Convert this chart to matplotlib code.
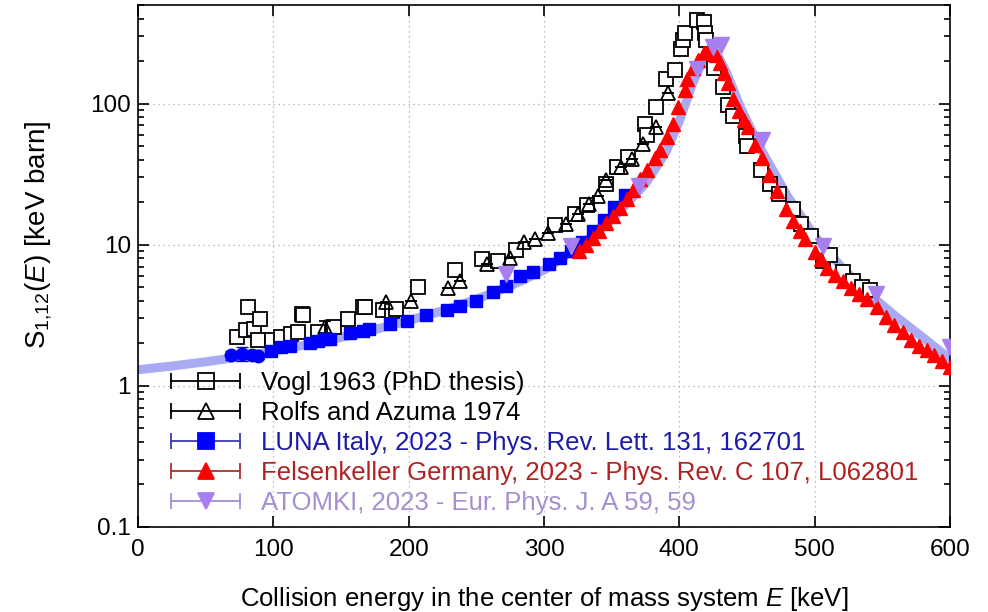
import numpy as np
import matplotlib
matplotlib.use('Agg')
import matplotlib.pyplot as plt
from matplotlib.lines import Line2D
from matplotlib.legend_handler import HandlerLine2D, HandlerTuple
from matplotlib.ticker import LogLocator, NullFormatter, FixedLocator

plt.rcParams['font.family'] = ['Liberation Sans', 'DejaVu Sans']
plt.rcParams['mathtext.fontset'] = 'custom'
plt.rcParams['mathtext.rm'] = 'Liberation Sans'
plt.rcParams['mathtext.it'] = 'Liberation Sans:italic'

# R-matrix type fit curve
fit_E = [0, 25, 50, 75, 100, 125, 150, 175, 200, 225, 250, 275, 300, 325, 350,
         375, 390, 400, 410, 418, 423, 428, 435, 445, 460, 480, 500, 520, 540,
         560, 580, 600]
fit_S = [1.30, 1.38, 1.48, 1.60, 1.76, 1.96, 2.2, 2.5, 2.9, 3.4, 4.1, 5.1, 6.6,
         9.5, 15, 27, 45, 75, 140, 205, 232, 225, 165, 95, 48, 22, 11.5, 6.9,
         4.5, 3.1, 2.2, 1.55]

# Vogl 1963
vogl_E = [73, 80, 81, 86, 89, 90, 99, 106, 113, 118, 121, 122, 133, 145, 155,
          166, 168, 181, 188, 191, 207, 234, 254, 266, 279, 308, 323, 332, 346,
          354, 362, 375, 376, 383, 390, 397, 401, 403, 404, 413, 418, 419, 420,
          426, 432, 436, 440, 449, 450, 460, 467, 474, 484, 490, 497, 506, 511,
          521, 528, 535, 541]
vogl_S = [2.22, 2.47, 3.63, 2.54, 2.1, 2.98, 2.1, 2.22, 2.34, 2.41, 3.24, 3.15,
          2.41, 2.62, 2.98, 3.6, 3.63, 3.42, 3.4, 3.51, 5.0, 6.6, 7.95, 7.6,
          9.1, 13.7, 16.6, 19, 27, 35.6, 42, 72, 60, 95, 150, 172, 245, 280,
          315, 390, 380, 315, 280, 178, 132, 97, 82, 59, 50, 33.6, 27, 23, 18,
          14, 11.6, 7.6, 8.4, 6.4, 5.5, 5.0, 4.75]

# Rolfs and Azuma 1974
rolfs_E = [138, 183, 202, 229, 238, 258, 275, 285, 293, 303, 316, 325, 333,
           340, 346, 357, 365, 373, 383, 392]
rolfs_S = [2.62, 3.92, 4.0, 4.95, 5.57, 7.3, 8.0, 10.5, 11, 12, 14, 16.6,
           19.5, 22, 28.5, 35.5, 40.5, 52, 68, 118]
rolfs_err = [0.25, 0, 0, 0, 0, 0, 0, 0, 0, 0, 0, 0, 0, 0, 0, 0, 0, 0, 0, 0]

# LUNA 2023 (low energy runs drawn as circles)
luna_low_E = [69, 77, 84, 89]
luna_low_S = [1.65, 1.69, 1.66, 1.63]
luna_low_err = [0.12, 0.2, 0.1, 0.08]
luna_E = [98, 106, 112, 127, 133, 139, 142, 157, 166, 171, 186, 199, 213, 228,
          238, 250, 262, 272, 282, 292, 304, 312, 320, 328, 336, 344, 352, 360]
luna_S = [1.77, 1.89, 1.92, 2.0, 2.08, 2.15, 2.15, 2.35, 2.45, 2.53, 2.75, 2.9,
          3.15, 3.42, 3.7, 4.0, 4.6, 5.1, 6.0, 6.4, 7.3, 8.0, 9.0, 10.5, 12.5,
          15, 18.5, 22.5]

# Felsenkeller 2023
fk_E = [326, 331, 336, 341, 346, 351, 356, 361, 366, 371, 376, 382, 386, 391,
        395, 399, 404, 406, 410, 414, 418, 421, 424, 427, 430, 433, 436, 440,
        444, 448, 451, 456, 461, 466, 472, 479, 484, 489, 493, 500, 505, 509,
        515, 521, 527, 533, 539, 546, 553, 559, 565, 571, 577, 583, 588, 594,
        600]
fk_S = [9.0, 10.0, 11.2, 12.6, 14.2, 16.0, 18.3, 21, 24.5, 29, 34, 41, 47, 58,
        72, 95, 125, 150, 180, 205, 228, 236, 232, 220, 195, 165, 140, 108, 88,
        76, 68, 51, 41, 31, 24, 18, 14.8, 12.6, 11, 8.9, 7.9, 6.8, 6.1, 5.5,
        4.9, 4.5, 4.1, 3.6, 3.05, 2.7, 2.4, 2.1, 1.92, 1.78, 1.64, 1.5, 1.37]

# ATOMKI 2023
atomki_E = [272, 320, 370, 413, 425, 431, 461, 506, 545, 600]
atomki_S = [6.2, 9.8, 26, 177, 250, 258, 55, 9.8, 4.5, 1.88]

fig, ax = plt.subplots(figsize=(9.88, 6.12), dpi=100)
fig.subplots_adjust(left=0.1397, right=0.9615, top=0.992, bottom=0.139)

ax.plot(fit_E, fit_S, color='#a9abf2', lw=6.5, solid_capstyle='round', zorder=1)

ax.errorbar(vogl_E, vogl_S, yerr=np.array(vogl_S) * 0.04, fmt='s', ms=9.5,
            mfc='white', mec='black', mew=1.3, ecolor='black', elinewidth=1,
            capsize=3, zorder=3)
ax.errorbar(rolfs_E, rolfs_S, yerr=rolfs_err, fmt='^', ms=10, mfc='none',
            mec='black', mew=1.3, ecolor='black', elinewidth=1, capsize=4,
            zorder=4)
ax.errorbar(luna_low_E, luna_low_S, yerr=luna_low_err, fmt='o', ms=9,
            color='#0000ff', ecolor='#0000ff', elinewidth=1.2, capsize=4,
            zorder=5)
ax.plot(luna_E, luna_S, 's', ms=9, color='#0000ff', mec='#0000ff', zorder=5)
ax.plot(fk_E, fk_S, '^', ms=10, color='#ff0000', mec='#ff0000', zorder=6)
ax.plot(atomki_E, atomki_S, 'v', ms=11, color='#a87ff0', mec='#a87ff0',
        zorder=7)

ax.set_yscale('log')
ax.set_xlim(0, 600)
ax.set_ylim(0.1, 500)
ax.xaxis.set_major_locator(FixedLocator([0, 100, 200, 300, 400, 500, 600]))
ax.yaxis.set_major_locator(FixedLocator([0.1, 1, 10, 100]))
ax.set_yticklabels(['0.1', '1', '10', '100'])
ax.yaxis.set_minor_locator(LogLocator(base=10, subs=np.arange(2, 10)))
ax.yaxis.set_minor_formatter(NullFormatter())
ax.tick_params(which='both', direction='in', top=True, right=True,
               labelsize=17.5, width=1.2)
ax.tick_params(which='major', length=8)
ax.tick_params(which='minor', length=4)
ax.tick_params(axis='x', which='major', pad=9)
ax.tick_params(axis='y', which='major', pad=5)
ax.grid(True, which='major', ls=(0, (1, 3)), color='#aaaaaa', lw=0.9)
for sp in ax.spines.values():
    sp.set_linewidth(1.2)

ax.set_xlabel('Collision energy in the center of mass system $\\mathit{E}$ [keV]',
              fontsize=18.5)
ax.xaxis.set_label_coords(0.5, -0.112)
ax.set_ylabel('S$_{1{,}12}$($\\mathit{E}$) [keV barn]', fontsize=20)
ax.yaxis.set_label_coords(-0.104, 0.56)

labels = ['Vogl 1963 (PhD thesis)', 'Rolfs and Azuma 1974',
          'LUNA Italy, 2023 - Phys. Rev. Lett. 131, 162701',
          'Felsenkeller Germany, 2023 - Phys. Rev. C 107, L062801',
          'ATOMKI, 2023 - Eur. Phys. J. A 59, 59']
line_colors = ['black', 'black', '#3a3ab0', '#b03030', '#a58fd8']
mk_styles = [('s', 'none', 'black'), ('^', 'none', 'black'),
             ('s', '#0000ff', '#0000ff'), ('^', '#ff0000', '#ff0000'),
             ('v', '#a87ff0', '#a87ff0')]
text_colors = ['black', 'black', '#1c1ca8', '#b02222', '#a58fd0']

handles = []
hmap = {}
for lc, (m, fc, ec) in zip(line_colors, mk_styles):
    cap = Line2D([], [], color=lc, lw=1.3, marker='|', ms=12, mew=1.3)
    mk = Line2D([], [], ls='none', marker=m, ms=11, mfc=fc, mec=ec, mew=1.3)
    hmap[cap] = HandlerLine2D(numpoints=2)
    handles.append((cap, mk))
hmap[tuple] = HandlerTuple(ndivide=1)

leg = ax.legend(handles, labels, handler_map=hmap, loc='lower left',
                bbox_to_anchor=(0.031, 0.022), frameon=False, fontsize=18.5,
                handlelength=3.3, handletextpad=0.5, labelspacing=0.24,
                borderaxespad=0, borderpad=0)
for t, c in zip(leg.get_texts(), text_colors):
    t.set_color(c)

fig.savefig('out.png', dpi=100)
